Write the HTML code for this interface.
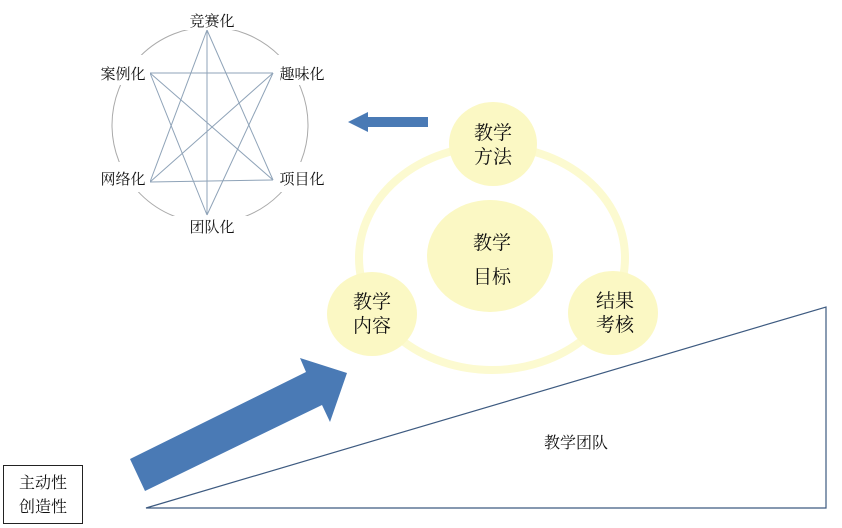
<!DOCTYPE html>
<html><head><meta charset="utf-8"><style>
body{margin:0;background:#fff;}
svg{display:block;}
text{font-family:"Liberation Serif","Noto Serif CJK SC",serif;fill:#111;}
</style></head><body>
<svg width="842" height="528" viewBox="0 0 842 528" xmlns="http://www.w3.org/2000/svg">
<circle cx="210" cy="125" r="98" fill="none" stroke="#aaa" stroke-width="1"/>
<g stroke="#8fa3b8" stroke-width="1" fill="none">
<line x1="207" y1="30" x2="150" y2="182"/>
<line x1="207" y1="30" x2="273" y2="180"/>
<line x1="207" y1="30" x2="207" y2="215"/>
<line x1="150" y1="73" x2="273" y2="73"/>
<line x1="150" y1="73" x2="273" y2="180"/>
<line x1="150" y1="73" x2="207" y2="215"/>
<line x1="150" y1="182" x2="273" y2="73"/>
<line x1="150" y1="182" x2="273" y2="180"/>
<line x1="207" y1="215" x2="273" y2="73"/>
</g>
<g fill="#fff">
<rect x="170" y="8" width="84" height="22"/>
<rect x="274" y="55" width="60" height="30"/>
<rect x="274" y="162" width="60" height="30"/>
<rect x="170" y="216" width="84" height="22"/>
<rect x="90" y="162" width="60" height="30"/>
<rect x="90" y="55" width="60" height="30"/>
</g>
<g font-size="15" text-anchor="middle">
<text x="212" y="26">竞赛化</text>
<text x="302" y="79">趣味化</text>
<text x="302" y="184">项目化</text>
<text x="212" y="232">团队化</text>
<text x="123" y="184">网络化</text>
<text x="123" y="79">案例化</text>
</g>
<polygon points="428,117 368,117 368,112 348,122 368,132 368,127 428,127" fill="#4a7ab5"/>
<ellipse cx="492" cy="258" rx="133" ry="112" fill="none" stroke="#fcfad0" stroke-width="8"/>
<g fill="#fbf8c4">
<ellipse cx="493" cy="144" rx="44" ry="42"/>
<ellipse cx="372" cy="314" rx="45" ry="42"/>
<ellipse cx="613" cy="313" rx="45" ry="42"/>
<ellipse cx="490" cy="256" rx="63" ry="56"/>
</g>
<g font-size="19" text-anchor="middle">
<text x="493" y="139">教学</text><text x="493" y="163">方法</text>
<text x="372" y="308">教学</text><text x="372" y="332">内容</text>
<text x="615" y="307">结果</text><text x="615" y="331">考核</text>
<text x="492" y="249">教学</text><text x="492" y="283">目标</text>
</g>
<polygon points="130,459 306,372 300,358 347,373 330,422 322,405 145,491" fill="#4a7ab5"/>
<polygon points="146,508 826,307 826,508" fill="none" stroke="#3d5a80" stroke-width="1.2"/>
<text x="576" y="448" font-size="16" text-anchor="middle">教学团队</text>
<rect x="3.5" y="465.5" width="79" height="58" fill="#fff" stroke="#222" stroke-width="1"/>
<g font-size="16" text-anchor="middle">
<text x="43" y="488">主动性</text>
<text x="43" y="512">创造性</text>
</g>
</svg>
</body></html>
